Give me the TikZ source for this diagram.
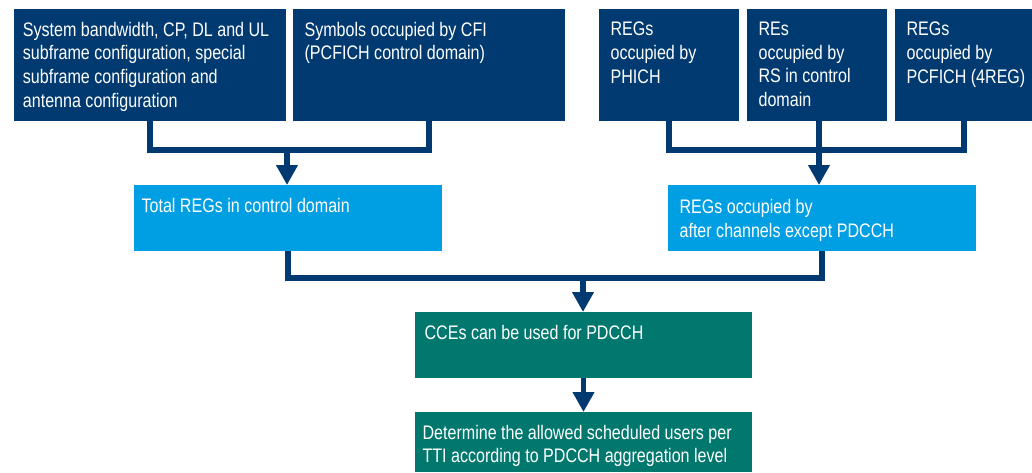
\documentclass[tikz,border=0pt]{standalone}
\usepackage{fontspec}
\setmainfont{Liberation Sans}[FakeStretch=0.82]
\usetikzlibrary{arrows.meta}
\definecolor{navy}{RGB}{0,58,112}
\definecolor{sky}{RGB}{0,159,227}
\definecolor{teal}{RGB}{0,120,110}
\tikzset{
  box/.style={anchor=north west, inner sep=0pt, outer sep=0pt, draw=none},
  lbl/.style={anchor=north west, inner sep=0pt, align=left, text=white,
    font=\fontsize{14.7}{17.8}\selectfont},
  conn/.style={draw=navy, line width=4pt, line join=miter},
  flow/.style={conn, -{Triangle[width=15.5pt,length=15pt]}},
}
\begin{document}
\begin{tikzpicture}[x=0.75pt,y=-0.75pt]
\useasboundingbox (0,0) rectangle (1032,472);
% input boxes (top row)
\node[box, fill=navy, minimum width={272*0.75pt}, minimum height={112*0.75pt}] (b1) at (14,9) {};
\node[box, fill=navy, minimum width={272*0.75pt}, minimum height={112*0.75pt}] (b2) at (293,9) {};
\node[box, fill=navy, minimum width={140*0.75pt}, minimum height={112*0.75pt}] (b3) at (599,9) {};
\node[box, fill=navy, minimum width={140*0.75pt}, minimum height={112*0.75pt}] (b4) at (747,9) {};
\node[box, fill=navy, minimum width={138*0.75pt}, minimum height={112*0.75pt}] (b5) at (895,9) {};
% intermediate results
\node[box, fill=sky, minimum width={308*0.75pt}, minimum height={66*0.75pt}] (t1) at (134,185) {};
\node[box, fill=sky, minimum width={308*0.75pt}, minimum height={66*0.75pt}] (t2) at (668,185) {};
% outcome boxes
\node[box, fill=teal, minimum width={337*0.75pt}, minimum height={66*0.75pt}] (g1) at (415,312) {};
\node[box, fill=teal, minimum width={337*0.75pt}, minimum height={60*0.75pt}] (g2) at (415,412) {};
% texts
\node[lbl] (b1t) at ([xshift=6.5pt,yshift=-9.5pt]b1.north west) {System bandwidth, CP, DL and UL\\subframe configuration, special\\subframe configuration and\\antenna configuration};
\node[lbl] (b2t) at ([xshift=8.5pt,yshift=-9.5pt]b2.north west) {Symbols occupied by CFI\\(PCFICH control domain)};
\node[lbl] (b3t) at ([xshift=8.5pt,yshift=-9.5pt]b3.north west) {REGs\\occupied by\\PHICH};
\node[lbl] (b4t) at ([xshift=8.5pt,yshift=-9.5pt]b4.north west) {REs\\occupied by\\RS in control\\domain};
\node[lbl] (b5t) at ([xshift=8.5pt,yshift=-9.5pt]b5.north west) {REGs\\occupied by\\PCFICH (4REG)};
\node[lbl] (t1t) at ([xshift=5.5pt,yshift=-10pt]t1.north west) {Total REGs in control domain};
\node[lbl] (t2t) at ([xshift=8.5pt,yshift=-10.5pt]t2.north west) {REGs occupied by\\after channels except PDCCH};
\node[lbl] (g1t) at ([xshift=7pt,yshift=-10pt]g1.north west) {CCEs can be used for PDCCH};
\node[lbl] (g2t) at ([xshift=5.5pt,yshift=-9.5pt]g2.north west) {Determine the allowed scheduled users per\\TTI according to PDCCH aggregation level};
% junction points
\coordinate (j1) at (287,150);
\coordinate (j2) at (819,150);
\coordinate (j3) at (583,278);
% connectors
\draw[conn] (b1.south) |- (j1) -| (b2.south);
\draw[flow] (j1) -- (j1 |- t1.north);
\draw[conn] (b3.south) |- (j2) -| (b5.south);
\draw[flow] (b4.south -| j2) -- (j2 |- t2.north);
\draw[conn] (t1.south) |- (j3) -| (t2.south);
\draw[flow] (j3) -- (j3 |- g1.north);
\draw[flow] (g1.south) -- (g2.north);
\end{tikzpicture}
\end{document}
